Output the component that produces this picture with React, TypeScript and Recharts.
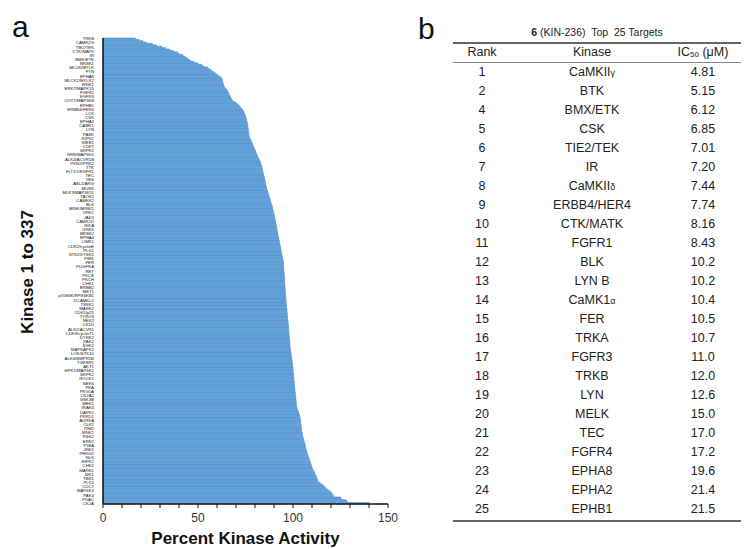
import React from "react";
import { BarChart, Bar, XAxis, YAxis } from "recharts";

// percent kinase activity, kinase 1 (top) to 337 (bottom)
const activity = [
  17, 19, 21, 23, 26, 28, 31, 33, 35, 37,
  39, 40, 42, 43, 44, 45, 46, 48, 50, 52,
  53, 55, 56, 57, 58, 59, 60, 61, 62, 62.5,
  62.8, 63, 63.2, 63.4, 63.6, 63.8, 64.5, 65, 65.5, 66,
  66.3, 66.6, 67, 67.4, 67.8, 68.2, 69.5, 70.5, 71.3, 72,
  72.6, 73.2, 73.7, 74.1, 74.4, 74.7, 75, 75.2, 75.4, 75.6,
  75.8, 76, 76.1, 76.2, 76.3, 76.4, 76.5, 76.6, 76.7, 76.8,
  76.9, 77, 77.2, 77.6, 78, 78.3, 78.6, 78.9, 79.2, 79.5,
  79.8, 80.1, 80.4, 80.7, 81, 81.3, 81.6, 82, 82.4, 82.7,
  83, 83.2, 83.4, 83.6, 83.8, 84, 84.1, 84.3, 84.5, 84.6,
  84.8, 85, 85.2, 85.3, 85.5, 85.6, 85.8, 86, 86.1, 86.3,
  86.5, 86.8, 87, 87.2, 87.4, 87.6, 87.9, 88.1, 88.3, 88.5,
  88.8, 89, 89.2, 89.3, 89.5, 89.7, 89.8, 90, 90.1, 90.3,
  90.4, 90.6, 90.8, 90.9, 91, 91.2, 91.3, 91.4, 91.6, 91.7,
  91.9, 92, 92.1, 92.3, 92.4, 92.6, 92.7, 92.9, 93, 93.1,
  93.3, 93.4, 93.5, 93.7, 93.8, 93.9, 94.1, 94.2, 94.4, 94.5,
  94.6, 94.8, 94.9, 95, 95, 95.1, 95.1, 95.2, 95.2, 95.3,
  95.3, 95.4, 95.4, 95.5, 95.5, 95.6, 95.6, 95.7, 95.7, 95.8,
  95.8, 95.9, 95.9, 96, 96, 96.1, 96.1, 96.2, 96.2, 96.3,
  96.4, 96.4, 96.5, 96.6, 96.6, 96.7, 96.8, 96.8, 96.9, 97,
  97, 97.1, 97.2, 97.2, 97.3, 97.4, 97.5, 97.5, 97.6, 97.6,
  97.7, 97.8, 97.8, 97.9, 97.9, 98, 98.1, 98.1, 98.2, 98.2,
  98.3, 98.4, 98.4, 98.5, 98.6, 98.7, 98.8, 98.9, 99, 99.1,
  99.2, 99.3, 99.4, 99.5, 99.6, 99.7, 99.8, 99.9, 100, 100,
  100.1, 100.1, 100.2, 100.3, 100.3, 100.4, 100.5, 100.5, 100.6, 100.7,
  100.7, 100.8, 100.9, 100.9, 101, 101.1, 101.2, 101.2, 101.3, 101.4,
  101.5, 101.5, 101.6, 101.7, 101.8, 101.8, 101.9, 102, 102.3, 102.6,
  102.9, 103.1, 103.3, 103.5, 103.7, 103.8, 104, 104, 104.1, 104.2,
  104.3, 104.4, 104.4, 104.5, 104.6, 104.8, 104.9, 105, 105.2, 105.4,
  105.6, 105.8, 106, 106.2, 106.4, 106.5, 106.7, 106.9, 107, 107.2,
  107.5, 107.8, 108, 108.3, 108.5, 108.8, 109, 109.3, 109.5, 109.8,
  110, 110.3, 110.6, 111, 111.3, 111.6, 112, 112.3, 112.6, 112.8,
  113, 113.8, 114.8, 115.8, 116.5, 117, 118, 119, 120, 120.5,
  121, 121.5, 125, 125.5, 128, 128.5, 140,
];

// every third kinase is labelled on the axis
const kinaseLabels = [
  "TRKB", "CAMK2G", "TIE2/TEK", "CTK/MATK", "IR", "BMX/ETK", "BRSK1", "MLCK/MYLK", "FYN", "EPHA8",
  "MLCK2/MYLK2", "WNK1", "ERK7/MAPK15", "FGFR1", "FGFR3", "COT1/MAP3K8", "EPHB1", "ERBB4/HER4", "LCK", "CSK",
  "EPHA2", "CAMK1", "LYN", "PASK", "RIPK2", "WEE1", "CDK7", "SRPK1", "KHS/MAP4K5", "ALK4/ACVR1B",
  "PKN2/PRK2", "TTK", "FLT1/VEGFR1", "TEC", "YES", "ABL2/ARG", "MUSK", "MLK3/MAP3K11", "TAOK2", "CAMKK2",
  "BLK", "MINK/MINK1", "VRK1", "JAK3", "CAMK1D", "IKKA", "GRK5", "BRSK2", "EPHA4", "LIMK1",
  "CDK2/cyclinE", "PLK1", "STK25/YSK1", "PIM1", "FER", "PDGFRA", "RET", "PKCE", "PKCH", "CHK1",
  "ERBB2", "MST1", "p70S6K/RPS6KB1", "DCAMKL1", "TSSK1", "MARK2", "CDK5/p25", "TYRO3", "NEK2", "CK1D",
  "ALK2/ACVR1", "CDK9/cyclinT1", "DYRK2", "PAK1", "SGK2", "MAPKAPK2", "LOK/STK10", "ALK6/BMPR1B", "TGFBR1", "AKT1",
  "HPK1/MAP4K1", "SRPK2", "ROCK1", "NEK6", "PKA", "PKG1A", "CK2A2", "GSK3B", "MEK1", "IRAK4",
  "DAPK1", "PRKD1", "AURKA", "CLK2", "PIM2", "MNK1", "RSK2", "ERK2", "P38A", "JNK1",
  "PHKG2", "NLK", "HIPK2", "CHK2", "MARK1", "SIK1", "TBK1", "PLK3", "CDC7", "MAP4K4",
  "PAK4", "PKAC", "CK2A",
];

const xTicks = [0, 10, 20, 30, 40, 50, 60, 70, 80, 90, 100, 110, 120, 130, 140, 150];

// table b
const ranks = [1, 2, 4, 5, 6, 7, 8, 9, 10, 11, 12, 13, 14, 15, 16, 17, 18, 19, 20, 21, 22, 23, 24, 25];
const kinases = [
  "CaMKIIγ", "BTK", "BMX/ETK", "CSK", "TIE2/TEK", "IR", "CaMKIIδ", "ERBB4/HER4", "CTK/MATK", "FGFR1",
  "BLK", "LYN B", "CaMK1α", "FER", "TRKA", "FGFR3", "TRKB", "LYN", "MELK", "TEC",
  "FGFR4", "EPHA8", "EPHA2", "EPHB1",
];
const ic50 = [
  "4.81", "5.15", "6.12", "6.85", "7.01", "7.20", "7.44", "7.74", "8.16", "8.43",
  "10.2", "10.2", "10.4", "10.5", "10.7", "11.0", "12.0", "12.6", "15.0", "17.0",
  "17.2", "19.6", "21.4", "21.5",
];

const data = activity.map((v, i) => ({ rank: i + 1, value: v }));

const FONT = "'Liberation Sans', Arial, sans-serif";
const BLUE = "#5B9BD5";

function KinaseName({ name }: { name: string }) {
  const last = name.slice(-1);
  if ("αγδ".includes(last)) {
    return (
      <span>
        {name.slice(0, -1)}
        <span style={{ fontSize: 9 }}>{last}</span>
      </span>
    );
  }
  return <span>{name}</span>;
}

export default function App() {
  const rowH = 19;
  return (
    <div
      style={{
        position: "absolute",
        left: 0,
        top: 0,
        width: 744,
        height: 549,
        background: "#fff",
        fontFamily: FONT,
        overflow: "hidden",
      }}
    >
      <div style={{ position: "absolute", left: 12, top: 10, fontSize: 30, color: "#111" }}>a</div>
      <div style={{ position: "absolute", left: 418, top: 12, fontSize: 30, color: "#111" }}>b</div>

      <div
        style={{
          position: "absolute",
          left: 28,
          top: 272,
          transform: "translate(-50%, -50%) rotate(-90deg)",
          whiteSpace: "nowrap",
          fontSize: 17,
          fontWeight: "bold",
          color: "#111",
        }}
      >
        Kinase 1 to 337
      </div>

      <div style={{ position: "absolute", left: 0, top: 0 }}>
        <BarChart
          width={400}
          height={549}
          data={data}
          layout="vertical"
          barCategoryGap={0}
          margin={{ top: 38, right: 12, left: 0, bottom: 0 }}
        >
          <XAxis
            type="number"
            domain={[0, 150]}
            ticks={xTicks}
            interval={0}
            height={45}
            tickFormatter={(v) => (v % 50 === 0 ? String(v) : "")}
            tick={{ fill: "#333", fontSize: 12, fontFamily: FONT }}
            tickSize={4}
            tickMargin={5}
            tickLine={{ stroke: "#111" }}
            axisLine={{ stroke: "#111", strokeWidth: 1.5 }}
            label={{
              value: "Percent Kinase Activity",
              position: "insideBottom",
              offset: 5,
              style: { fill: "#111", fontSize: 17, fontWeight: "bold", fontFamily: FONT },
            }}
          />
          <YAxis
            type="category"
            dataKey="rank"
            width={103}
            interval={2}
            tickFormatter={(r: number) => kinaseLabels[(r - 1) / 3] ?? ""}
            tick={{ fill: "#111", fontSize: 4.3, fontFamily: FONT }}
            tickLine={false}
            tickMargin={3}
            axisLine={{ stroke: "#111", strokeWidth: 1.5 }}
          />
          <Bar dataKey="value" fill={BLUE} stroke={BLUE} strokeWidth={0.8} isAnimationActive={false} />
        </BarChart>
      </div>

      <div style={{ position: "absolute", left: 453, top: 0, width: 288, color: "#222" }}>
        <div
          style={{
            position: "absolute",
            top: 26,
            width: 288,
            textAlign: "center",
            fontSize: 10.5,
          }}
        >
          <b>6</b> (KIN-236)&nbsp; Top&nbsp; 25 Targets
        </div>
        <div style={{ position: "absolute", top: 42, width: 288, height: 2, background: "#666" }} />
        <div style={{ position: "absolute", top: 45, width: 288, height: 16, fontSize: 12.5 }}>
          <span style={{ position: "absolute", left: 0, width: 58, textAlign: "center" }}>Rank</span>
          <span style={{ position: "absolute", left: 84, width: 110, textAlign: "center" }}>Kinase</span>
          <span style={{ position: "absolute", left: 205, width: 90, textAlign: "center" }}>
            IC<sub style={{ fontSize: 8, verticalAlign: "-1px" }}>50</sub> (μM)
          </span>
        </div>
        <div style={{ position: "absolute", top: 62, width: 288, height: 1, background: "#888" }} />
        {ranks.map((r, i) => (
          <div
            key={r}
            style={{
              position: "absolute",
              top: 63 + i * rowH,
              width: 288,
              height: rowH,
              lineHeight: `${rowH}px`,
              fontSize: 12.5,
            }}
          >
            <span style={{ position: "absolute", left: 0, width: 58, textAlign: "center" }}>{r}</span>
            <span style={{ position: "absolute", left: 84, width: 110, textAlign: "center" }}>
              <KinaseName name={kinases[i]} />
            </span>
            <span style={{ position: "absolute", left: 205, width: 90, textAlign: "center" }}>{ic50[i]}</span>
          </div>
        ))}
        <div style={{ position: "absolute", top: 520, width: 288, height: 2, background: "#666" }} />
      </div>
    </div>
  );
}
